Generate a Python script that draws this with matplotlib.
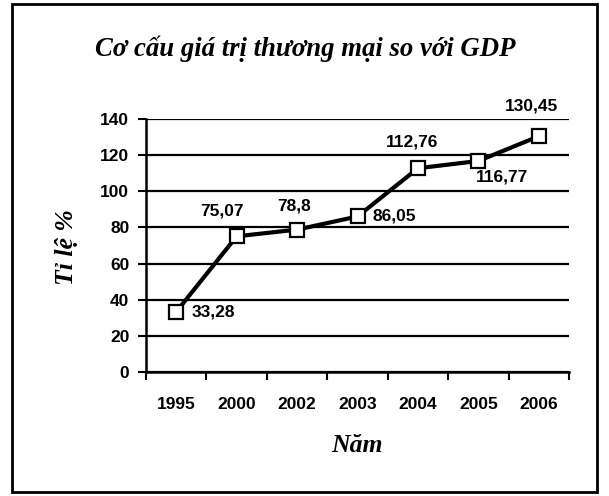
import matplotlib.pyplot as plt
from matplotlib.patches import Rectangle

# data
years = ["1995", "2000", "2002", "2003", "2004", "2005", "2006"]
values = [33.28, 75.07, 78.8, 86.05, 112.76, 116.77, 130.45]
labels = ["33,28", "75,07", "78,8", "86,05", "112,76", "116,77", "130,45"]
# label centre offsets from the point, in pixels
offsets = [(37, 0), (-15, 25), (-3, 24), (37, 0), (-6, 26), (24, -16), (-7, 30)]

sans = "Liberation Sans"
serif = "Liberation Serif"

fig = plt.figure(figsize=(6.09, 4.96), dpi=100)
fig.patches.append(Rectangle((12 / 609, 4 / 496), 585 / 609, 488 / 496,
                             transform=fig.transFigure, fill=False,
                             edgecolor="black", linewidth=2))

ax = fig.add_axes([146 / 609, 1 - 372 / 496, 423 / 609, 253 / 496])
x = list(range(len(years)))
ax.plot(x, values, color="black", linewidth=3, marker="s", markersize=10,
        markerfacecolor="white", markeredgecolor="black", markeredgewidth=1.6,
        zorder=3)

for xi, v, lab, (dx, dy) in zip(x, values, labels, offsets):
    ax.annotate(lab, (xi, v), xytext=(dx, dy), textcoords="offset pixels",
                ha="center", va="center", fontsize=12.5, fontweight="bold",
                family=sans)

ax.set_ylim(0, 140)
ax.set_xlim(-0.5, len(years) - 0.5)
ax.set_yticks(range(0, 141, 20))
ax.yaxis.grid(True, color="black", linewidth=1.6)
ax.set_axisbelow(True)

ax.set_xticks(x)
ax.set_xticklabels(years)
ax.set_xticks([i - 0.5 for i in range(len(years) + 1)], minor=True)
ax.tick_params(axis="x", which="major", length=0, pad=18)
ax.tick_params(axis="x", which="minor", length=6, width=1.5, direction="out")
ax.tick_params(axis="y", length=6, width=1.5, direction="out", pad=6)
for t in ax.get_xticklabels() + ax.get_yticklabels():
    t.set_fontfamily(sans)
    t.set_fontweight("bold")
    t.set_fontsize(12.5)

for s in ["top", "right"]:
    ax.spines[s].set_visible(False)
for s in ["left", "bottom"]:
    ax.spines[s].set_linewidth(1.8)

fig.text(305 / 609, 1 - 56 / 496, "Cơ cấu giá trị thương mại so với GDP",
         ha="center", va="baseline", fontsize=19.3, fontstyle="italic",
         fontweight="bold", family=serif)
fig.text(66 / 609, 1 - 247 / 496, "Tỉ lệ %", rotation=90, ha="center",
         va="center", fontsize=18.5, fontstyle="italic", fontweight="bold",
         family=serif)
fig.text(357 / 609, 1 - 452 / 496, "Năm", ha="center", va="baseline",
         fontsize=18.5, fontstyle="italic", fontweight="bold", family=serif)

fig.savefig("out.png", dpi=100)
